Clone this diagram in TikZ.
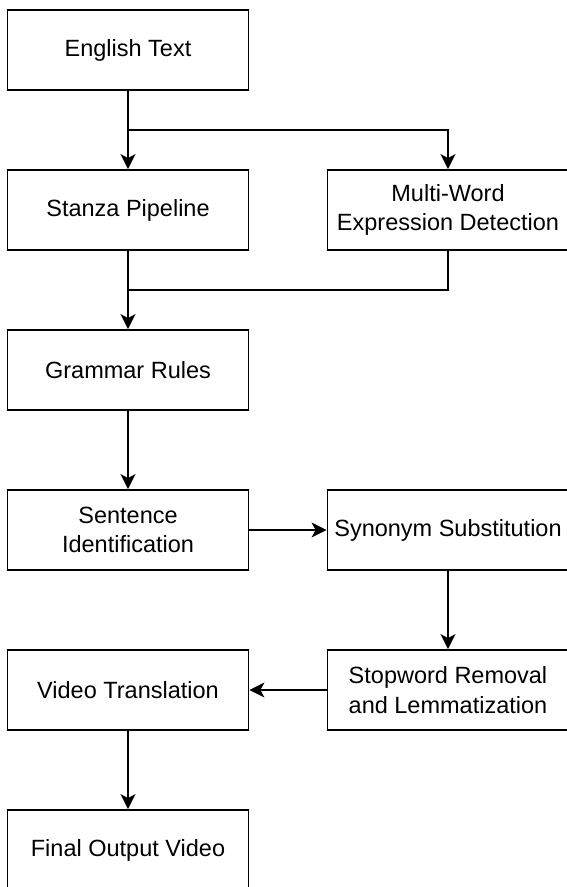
\documentclass[tikz,border=0pt]{standalone}
\usepackage{fontspec}
\setmainfont{Liberation Sans}
\usetikzlibrary{arrows.meta}
\begin{document}
\begin{tikzpicture}[x=1pt,y=-1pt,
  box/.style={draw=black, line width=1.8pt, minimum width=241pt, minimum height=80pt,
    inner sep=2pt, align=center, font=\fontsize{23.5}{29.5}\selectfont},
  conn/.style={draw=black, line width=1.8pt},
  arr/.style={conn, -{Stealth[length=15pt,width=15pt,inset=4pt]}}]
\useasboundingbox (0,0) rectangle (566,887);
\node[box] (eng)   at (128,50)  {English Text};
\node[box] (stan)  at (128,210) {Stanza Pipeline};
\node[box] (mwe)   at (448,210) {Multi-Word\\Expression Detection};
\node[box] (gram)  at (128,370) {Grammar Rules};
\node[box] (sent)  at (128,530) {Sentence\\Identification};
\node[box] (syn)   at (448,530) {Synonym Substitution};
\node[box] (stop)  at (448,690) {Stopword Removal\\and Lemmatization};
\node[box] (vid)   at (128,690) {Video Translation};
\node[box] (fin)   at (128,850) {Final Output Video};
\coordinate (split) at (128,130);
\coordinate (merge) at (128,290);
\draw[arr] (eng) -- (stan);
\draw[arr] (eng.south) -- (split) -| (mwe.north);
\draw[arr] (stan) -- (gram);
\draw[conn] (mwe.south) |- (merge);
\draw[arr] (gram) -- (sent);
\draw[arr] (sent) -- (syn);
\draw[arr] (syn) -- (stop);
\draw[arr] (stop) -- (vid);
\draw[arr] (vid) -- (fin);
\end{tikzpicture}
\end{document}
